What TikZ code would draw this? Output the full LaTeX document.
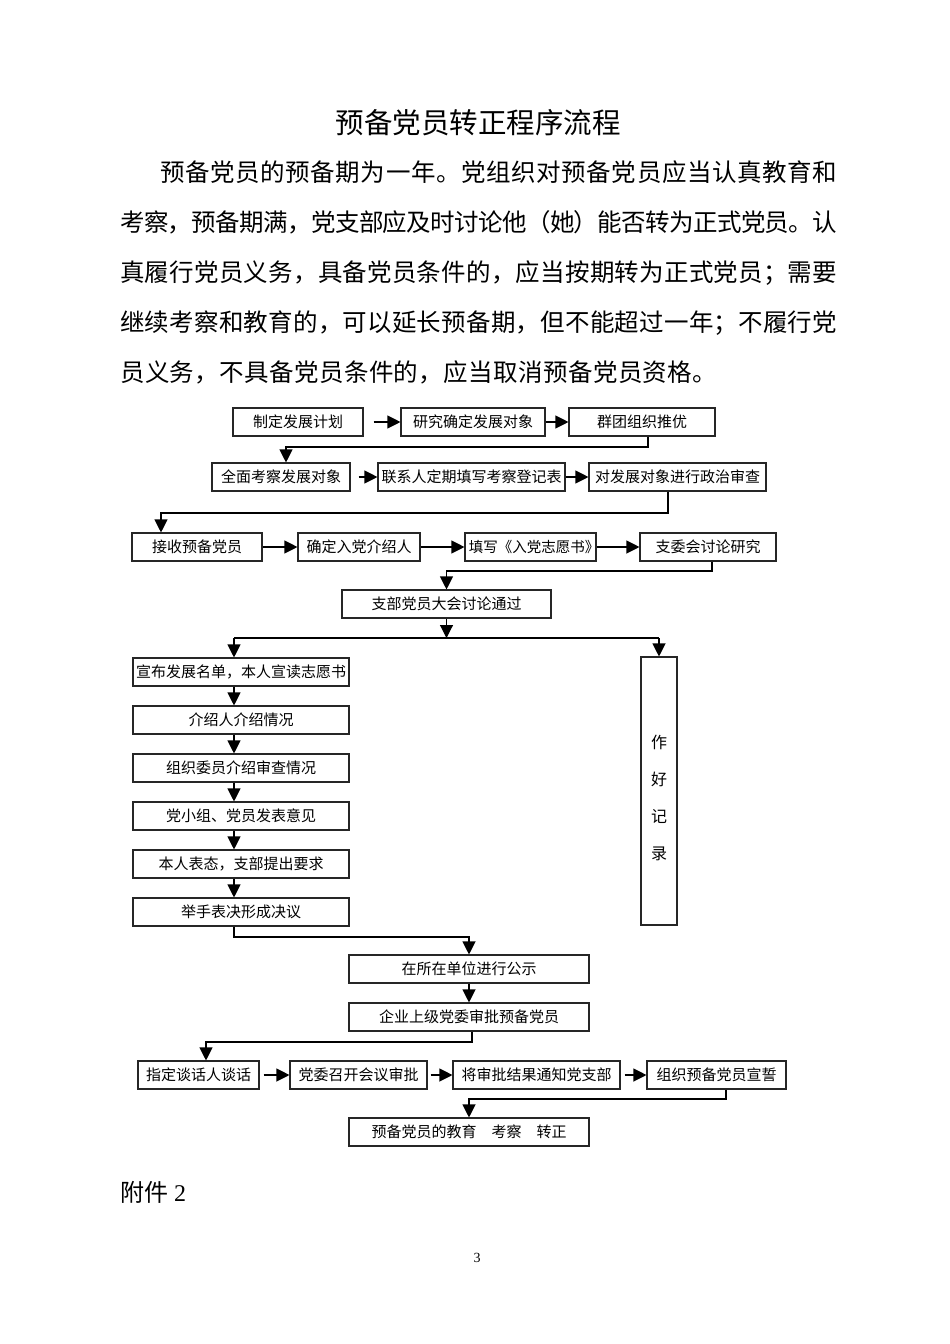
\documentclass[tikz,border=0pt]{standalone}
\usepackage{fontspec}
\setmainfont{Liberation Serif}
\newfontfamily\cjk{Noto Sans CJK SC}
\usetikzlibrary{arrows.meta,calc}
\def\spreadtext#1{#1\spreadnext}
\def\spreadnext#1{\ifx#1\relax\else\hskip 0pt plus 1fil minus 2pt\relax#1\expandafter\spreadnext\fi}
\newcommand\mkbox[6]{\node[flowbox, minimum width={(#3-#2)*1pt}, minimum height={(#5-#4)*1pt}] (#1) at ({(#2+#3)/2},{(#4+#5)/2}) {#6};}
\begin{document}
\begin{tikzpicture}[x=1pt,y=-1pt,
  flowbox/.style={draw=black!85, line width=1.1pt, inner sep=0pt, font=\cjk\fontsize{15}{18}\selectfont, align=center},
  arr/.style={draw=black, line width=1.1pt, -{Triangle[length=13pt,width=13pt]}},
  ln/.style={draw=black, line width=1.1pt},
  bodyline/.style={anchor=base west, inner sep=0pt, font=\cjk\fontsize{24.5}{30}\selectfont}]
\fill[white] (0,0) rectangle (950,1344);
\useasboundingbox (0,0) rectangle (950,1344);

% title and text
\node[anchor=base, inner sep=0pt, font=\cjk\fontsize{28.5}{32}\selectfont] (title) at (478,133) {预备党员转正程序流程};
\node[bodyline] (p1) at (160,181) {\hbox to 677pt{\spreadtext 预备党员的预备期为一年。党组织对预备党员应当认真教育和\relax}};
\node[bodyline] (p2) at (120,231) {\hbox to 717pt{\spreadtext 考察，预备期满，党支部应及时讨论他（她）能否转为正式党员。认\relax}};
\node[bodyline] (p3) at (120,281) {\hbox to 717pt{\spreadtext 真履行党员义务，具备党员条件的，应当按期转为正式党员；需要\relax}};
\node[bodyline] (p4) at (120,331) {\hbox to 717pt{\spreadtext 继续考察和教育的，可以延长预备期，但不能超过一年；不履行党\relax}};
\node[bodyline] (p5) at (120,381) {\hbox to 597pt{\spreadtext 员义务，不具备党员条件的，应当取消预备党员资格。\relax}};

% boxes
\mkbox{A}{233}{363}{408}{436}{制定发展计划}
\mkbox{B}{401}{545}{408}{436}{研究确定发展对象}
\mkbox{C}{569}{715}{408}{436}{群团组织推优}
\mkbox{D}{212}{350}{463}{491}{全面考察发展对象}
\mkbox{E}{378}{565}{463}{491}{联系人定期填写考察登记表}
\mkbox{F}{589}{766}{463}{491}{对发展对象进行政治审查}
\mkbox{G}{132}{262}{533}{561}{接收预备党员}
\mkbox{H}{298}{420}{533}{561}{确定入党介绍人}
\mkbox{I}{465}{596}{533}{561}{\fontsize{14.5}{18}\selectfont 填写《入党志愿书》\hspace{-7pt}}
\mkbox{J}{640}{776}{533}{561}{支委会讨论研究}
\mkbox{K}{342}{551}{590}{618}{支部党员大会讨论通过}
\mkbox{L1}{133}{349}{658}{686}{宣布发展名单，本人宣读志愿书}
\mkbox{L2}{133}{349}{706}{734}{介绍人介绍情况}
\mkbox{L3}{133}{349}{754}{782}{组织委员介绍审查情况}
\mkbox{L4}{133}{349}{802}{830}{党小组、党员发表意见}
\mkbox{L5}{133}{349}{850}{878}{本人表态，支部提出要求}
\mkbox{L6}{133}{349}{898}{926}{举手表决形成决议}
\node[flowbox, minimum width=36pt, minimum height=268pt, font=\cjk\fontsize{16}{37}\selectfont] (M) at (659,791) {\rule{0pt}{28pt}作\\好\\记\\录};
\mkbox{P}{349}{589}{955}{983}{在所在单位进行公示}
\mkbox{Q}{349}{589}{1003}{1031}{企业上级党委审批预备党员}
\mkbox{R}{138}{259}{1061}{1089}{指定谈话人谈话}
\mkbox{S}{290}{427}{1061}{1089}{党委召开会议审批}
\mkbox{T}{453}{620}{1061}{1089}{将审批结果通知党支部}
\mkbox{U}{647}{786}{1061}{1089}{组织预备党员宣誓}
\mkbox{V}{349}{589}{1118}{1146}{预备党员的教育\hspace{15pt}考察\hspace{15pt}转正}

% connectors
\draw[arr, shorten <=10pt] (A) -- (B);
\draw[arr] (B) -- (C);
\coordinate (c1) at (286,447);
\draw[arr] ([xshift=6pt]C.south) |- (c1) -- (c1 |- D.north);
\draw[arr, shorten <=8pt] (D) -- (E);
\draw[arr] (E) -- (F);
\coordinate (c2) at (161,513);
\draw[arr] ([xshift=-9.5pt]F.south) |- (c2) -- (c2 |- G.north);
\draw[arr] (G) -- (H);
\draw[arr] (H) -- (I);
\draw[arr] (I) -- (J);
\coordinate (c3) at (446.5,571);
\draw[arr] ([xshift=4pt]J.south) |- (c3) -- (K.north);
\coordinate (j) at (446.5,638);
\coordinate (jl) at (234,638);
\coordinate (jr) at (659,638);
\draw[arr] (K.south) -- (j);
\draw[ln] (jl) -- (jr);
\draw[arr] (jl) -- (jl |- L1.north);
\draw[arr] (jr) -- (M.north);
\foreach \a/\b in {L1/L2,L2/L3,L3/L4,L4/L5,L5/L6}
  \draw[arr] ([xshift=-7pt]\a.south) -- ([xshift=-7pt]\b.north);
\coordinate (c4) at (469,937);
\draw[arr] ([xshift=-7pt]L6.south) |- (c4) -- (P.north);
\draw[arr] (P) -- (Q);
\coordinate (c5) at (206,1042);
\draw[arr] ([xshift=3pt]Q.south) |- (c5) -- (c5 |- R.north);
\draw[arr, shorten <=4pt] (R) -- (S);
\draw[arr, shorten <=3pt] (S) -- (T);
\draw[arr, shorten <=4pt] (T) -- (U);
\coordinate (c6) at (469,1099);
\draw[arr] ([xshift=9.5pt]U.south) |- (c6) -- (V.north);

% footer
\node[anchor=base west, inner sep=0pt, font=\fontsize{24}{28}\selectfont] (att) at (120,1201) {{\cjk 附件} 2};
\node[anchor=base, inner sep=0pt, font=\fontsize{14}{16}\selectfont] (pg) at (477,1262) {3};
\end{tikzpicture}
\end{document}
